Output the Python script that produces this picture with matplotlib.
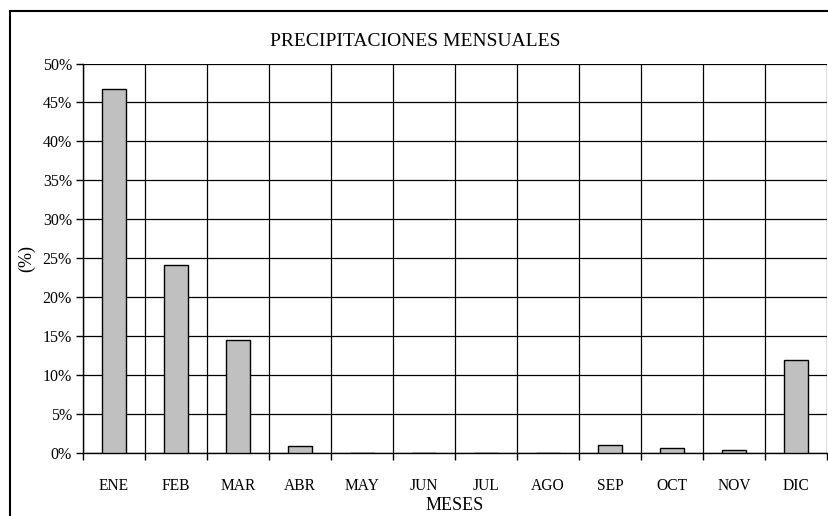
import numpy as np
import matplotlib.pyplot as plt
from matplotlib.patches import Rectangle
from matplotlib.ticker import MultipleLocator, FuncFormatter

plt.rcParams['font.family'] = ['Liberation Serif', 'DejaVu Serif']

meses = ['ENE', 'FEB', 'MAR', 'ABR', 'MAY', 'JUN', 'JUL', 'AGO', 'SEP', 'OCT', 'NOV', 'DIC']
precip_pct = [46.7, 24.1, 14.5, 0.9, 0.0, 0.0, 0.0, 0.0, 1.0, 0.6, 0.4, 12.0]

W, H = 829, 516
fig = plt.figure(figsize=(W / 100, H / 100), dpi=100)
ax = fig.add_axes([83 / W, 1 - 453 / H, (827 - 83) / W, (453 - 63.5) / H])

x = np.arange(len(meses))
ax.bar(x, precip_pct, width=0.4, color='#C0C0C0', edgecolor='black', linewidth=1.0, zorder=3)

ax.set_xlim(-0.5, len(meses) - 0.5)
ax.set_ylim(0, 50)
ax.yaxis.set_major_locator(MultipleLocator(5))
ax.yaxis.set_major_formatter(FuncFormatter(lambda v, p: f'{v:.0f}%'))

# category boundaries as major ticks, labels on minor ticks
ax.set_xticks(np.arange(len(meses) + 1) - 0.5)
ax.set_xticklabels([])
ax.set_xticks(x, minor=True)
ax.set_xticklabels(meses, minor=True)
ax.tick_params(axis='x', which='minor', length=0, pad=18, labelsize=11.2)
ax.tick_params(axis='x', which='major', length=5, width=1, direction='out')
ax.tick_params(axis='y', length=5, width=1, direction='out', labelsize=11.5, pad=3)

ax.grid(True, which='major', color='black', linewidth=0.9, zorder=0)
for side in ['left', 'bottom']:
    ax.spines[side].set_linewidth(1.0)
    ax.spines[side].set_color('black')
ax.spines['top'].set_visible(False)
ax.spines['right'].set_visible(False)
ax.set_axisbelow(True)

fig.text(415 / W, 1 - 42 / H, 'PRECIPITACIONES MENSUALES', ha='center', va='center', fontsize=14)
fig.text(455 / W, 1 - 506 / H, 'MESES', ha='center', va='center', fontsize=13)
fig.text(27 / W, 1 - 258 / H, '(%)', ha='center', va='center', rotation=90, fontsize=13)

# outer chart frame
fig.patches.append(Rectangle((10 / W, -0.1), 1.2, 1 - 11 / H + 0.1, transform=fig.transFigure,
                             fill=False, edgecolor='black', linewidth=1.5))

fig.savefig('out.png', dpi=100)
